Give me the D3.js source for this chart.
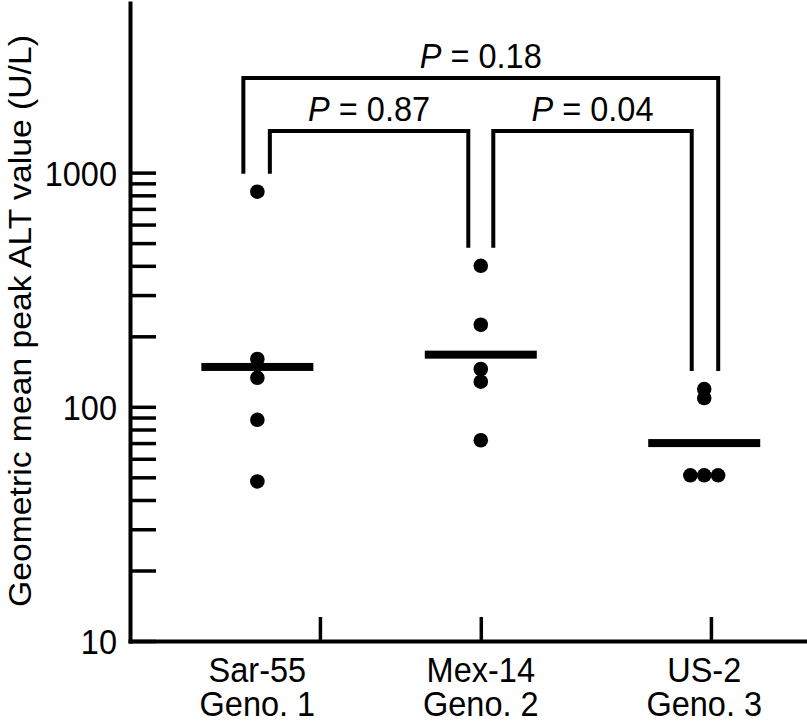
<!DOCTYPE html>
<html>
<head>
<meta charset="utf-8">
<script src="https://cdn.jsdelivr.net/npm/d3@7"></script>
<style>
  html, body { margin: 0; padding: 0; background: #fff; }
  svg { display: block; }
  text { font-family: "Liberation Sans", Arial, Helvetica, sans-serif; fill: #000; }
</style>
</head>
<body>
<svg id="chart" width="807" height="726"></svg>
<script>
// ---- data ----
const categories = ["Sar-55", "Mex-14", "US-2"];
const genotypes = ["Geno. 1", "Geno. 2", "Geno. 3"];
const categoryPos = [1, 2, 3];
const sar55Values = [829, 160, 133, 88, 48];
const mex14Values = [400, 224, 145, 128, 72];
const us2Values = [119, 109, 51, 51, 51];
const seriesValues = [sar55Values, mex14Values, us2Values];
const geoMeans = [148, 167, 70];
const yTickValues = [10, 20, 30, 40, 50, 60, 70, 80, 90,
                     100, 200, 300, 400, 500, 600, 700, 800, 900, 1000];
const yTickLabels = ["10", "100", "1000"];
const xTickValues = [1.28, 2, 3.03];
const comparisonPairs = [[0, 1], [1, 2], [0, 2]];
const comparisonTier = [0, 0, 1];
const pValues = ["0.87", "0.04", "0.18"];
const yLabel = "Geometric mean peak ALT value (U/L)";

// ---- layout ----
const svg = d3.select("#chart");
const axisLeftX = 130, axisBottomY = 641, axisTopY = 3, plotRight = 807;
const fontSize = 32.5;
const stretch = 1.08; // glyphs in the reference are slightly taller than wide

const x = d3.scaleLinear().domain([0.43, 3.46]).range([axisLeftX, plotRight]);
const y = d3.scaleLog().domain([10, 5300]).range([axisBottomY, axisTopY]);

// helper: stretched text at a baseline point
function sText(g, tx, ty, anchor) {
  return g.append("text")
    .attr("transform", `translate(${tx},${ty}) scale(1,${stretch})`)
    .attr("text-anchor", anchor)
    .attr("font-size", fontSize);
}

// Y axis (ticks point inward)
const yAxis = d3.axisLeft(y)
  .tickValues(yTickValues)
  .tickSizeInner(-26)
  .tickSizeOuter(0)
  .tickPadding(13)
  .tickFormat(d => yTickLabels.includes(String(d)) ? String(d) : "");
const gy = svg.append("g").attr("transform", `translate(${axisLeftX},0)`).call(yAxis);
gy.select(".domain").attr("stroke", "#000").attr("stroke-width", 4).attr("stroke-linecap", "square");
gy.selectAll(".tick line").attr("stroke", "#000").attr("stroke-width", 3.5);
gy.selectAll(".tick text")
  .attr("font-size", fontSize)
  .attr("font-family", '"Liberation Sans", Arial, sans-serif')
  .attr("fill", "#000")
  .attr("dy", null)
  .attr("x", null)
  .attr("transform", `translate(-13,0) scale(1,${stretch}) translate(0,11.5)`);

// X axis (ticks point inward)
const xAxis = d3.axisBottom(x)
  .tickValues(xTickValues)
  .tickSizeInner(-24)
  .tickSizeOuter(0)
  .tickFormat("");
const gx = svg.append("g").attr("transform", `translate(0,${axisBottomY})`).call(xAxis);
gx.select(".domain").attr("stroke", "#000").attr("stroke-width", 4).attr("stroke-linecap", "square");
gx.selectAll(".tick line").attr("stroke", "#000").attr("stroke-width", 3.5);

// Category labels (two lines)
const catLabels = svg.append("g");
categories.forEach((c, i) => {
  sText(catLabels, x(categoryPos[i]), 682, "middle").text(c);
  sText(catLabels, x(categoryPos[i]), 716, "middle").text(genotypes[i]);
});

// Y axis title
svg.append("text")
  .attr("transform", `translate(31,${(axisTopY + axisBottomY) / 2 - 1}) rotate(-90) scale(1.07,1)`)
  .attr("text-anchor", "middle")
  .attr("font-size", 31.5)
  .text(yLabel);

// Mean bars
const barHalf = 56;
svg.append("g").selectAll("rect")
  .data(geoMeans)
  .join("rect")
  .attr("x", (d, i) => x(categoryPos[i]) - barHalf)
  .attr("width", barHalf * 2)
  .attr("y", d => y(d) - 4)
  .attr("height", 8)
  .attr("fill", "#000");

// Points (ties spread horizontally)
const r = 7.3;
const points = [];
seriesValues.forEach((vals, i) => {
  const groups = d3.group(vals, v => v);
  groups.forEach(arr => {
    const n = arr.length;
    arr.forEach((v, k) => {
      points.push({ cat: i, value: v, off: (k - (n - 1) / 2) * r * 1.9 });
    });
  });
});
svg.append("g").selectAll("circle")
  .data(points)
  .join("circle")
  .attr("cx", d => x(categoryPos[d.cat]) + d.off)
  .attr("cy", d => y(d.value))
  .attr("r", r)
  .attr("fill", "#000");

// Comparison brackets
const tierY = [131, 78];
const legOffset = [12.5, 14];
const legGap = 18;
const bg = svg.append("g");
comparisonPairs.forEach(([a, b], i) => {
  const tier = comparisonTier[i];
  const yTop = tierY[tier];
  const xa = x(categoryPos[a]) + (tier === 0 ? legOffset[0] : -legOffset[1]);
  const xb = x(categoryPos[b]) + (tier === 0 ? -legOffset[0] : legOffset[1]);
  const ya = y(d3.max(seriesValues[a])) - legGap;
  const yb = y(d3.max(seriesValues[b])) - legGap;
  bg.append("path")
    .attr("d", d3.line()([[xa, ya], [xa, yTop], [xb, yTop], [xb, yb]]))
    .attr("fill", "none")
    .attr("stroke", "#000")
    .attr("stroke-width", 4)
    .attr("stroke-linejoin", "miter");
  const t = sText(bg, (xa + xb) / 2, yTop - 10.5, "middle");
  t.append("tspan").attr("font-style", "italic").text("P");
  t.append("tspan").text(" = " + pValues[i]);
});
</script>
</body>
</html>
